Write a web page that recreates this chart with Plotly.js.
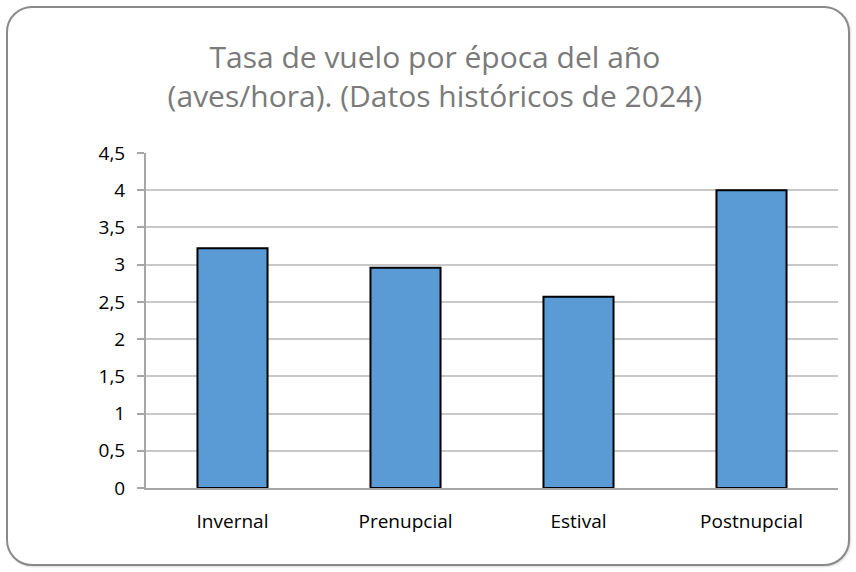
<!DOCTYPE html>
<html>
<head>
<meta charset="utf-8">
<script src="https://cdn.plot.ly/plotly-3.0.1.min.js"></script>
<style>
  html, body { margin: 0; padding: 0; background: #ffffff; }
  #frame {
    position: absolute; left: 6px; top: 6px; width: 844px; height: 560px;
    border: 2px solid #8a8a8a; border-radius: 26px; box-sizing: border-box;
    background: #ffffff;
    box-shadow: 1px 1px 2px rgba(0,0,0,0.15);
  }
  #chart { position: absolute; left: 0; top: 0; width: 856px; height: 572px; }
</style>
</head>
<body>
<div id="frame"></div>
<div id="chart"></div>
<script>
const categories = ["Invernal", "Prenupcial", "Estival", "Postnupcial"];
const values = [3.22, 2.96, 2.57, 4.0];
const tickValues = [0, 0.5, 1, 1.5, 2, 2.5, 3, 3.5, 4, 4.5];
const tickLabels = ["0", "0,5", "1", "1,5", "2", "2,5", "3", "3,5", "4", "4,5"];
const titleLines = ["Tasa de vuelo por época del año", "(aves/hora). (Datos históricos de 2024)"];

const FONT = "'Open Sans', 'Noto Sans', sans-serif";

Plotly.newPlot("chart", [{
  type: "bar",
  x: categories,
  y: values,
  width: 0.405,
  marker: { color: "#5b9bd5", line: { color: "#000000", width: 2 } },
  hoverinfo: "x+y"
}], {
  width: 856, height: 572,
  paper_bgcolor: "rgba(0,0,0,0)",
  plot_bgcolor: "rgba(0,0,0,0)",
  margin: { l: 146, r: 18, t: 153, b: 84 },
  showlegend: false,
  title: {
    text: titleLines.join("<br>"),
    font: { family: FONT, size: 30, color: "#7a7a7a" },
    x: 0.508, xanchor: "center",
    yref: "container",
    y: 0.881, yanchor: "middle",
    automargin: false
  },
  xaxis: {
    type: "category",
    showgrid: false,
    showline: true, linecolor: "#a6a6a6", linewidth: 2,
    ticks: "",
    tickfont: { family: FONT, size: 19, color: "#000000" },
    ticklabelstandoff: 15
  },
  yaxis: {
    range: [0, 4.5],
    tickvals: tickValues,
    ticktext: tickLabels,
    showgrid: true, gridcolor: "#c8c8c8", gridwidth: 2,
    showline: true, linecolor: "#a6a6a6", linewidth: 2,
    ticks: "outside", ticklen: 7, tickcolor: "#a6a6a6", tickwidth: 2,
    zeroline: false,
    tickfont: { family: FONT, size: 19, color: "#000000" },
    ticklabelstandoff: 8
  },
  bargap: 0.6
}, { displayModeBar: false });
</script>
</body>
</html>
